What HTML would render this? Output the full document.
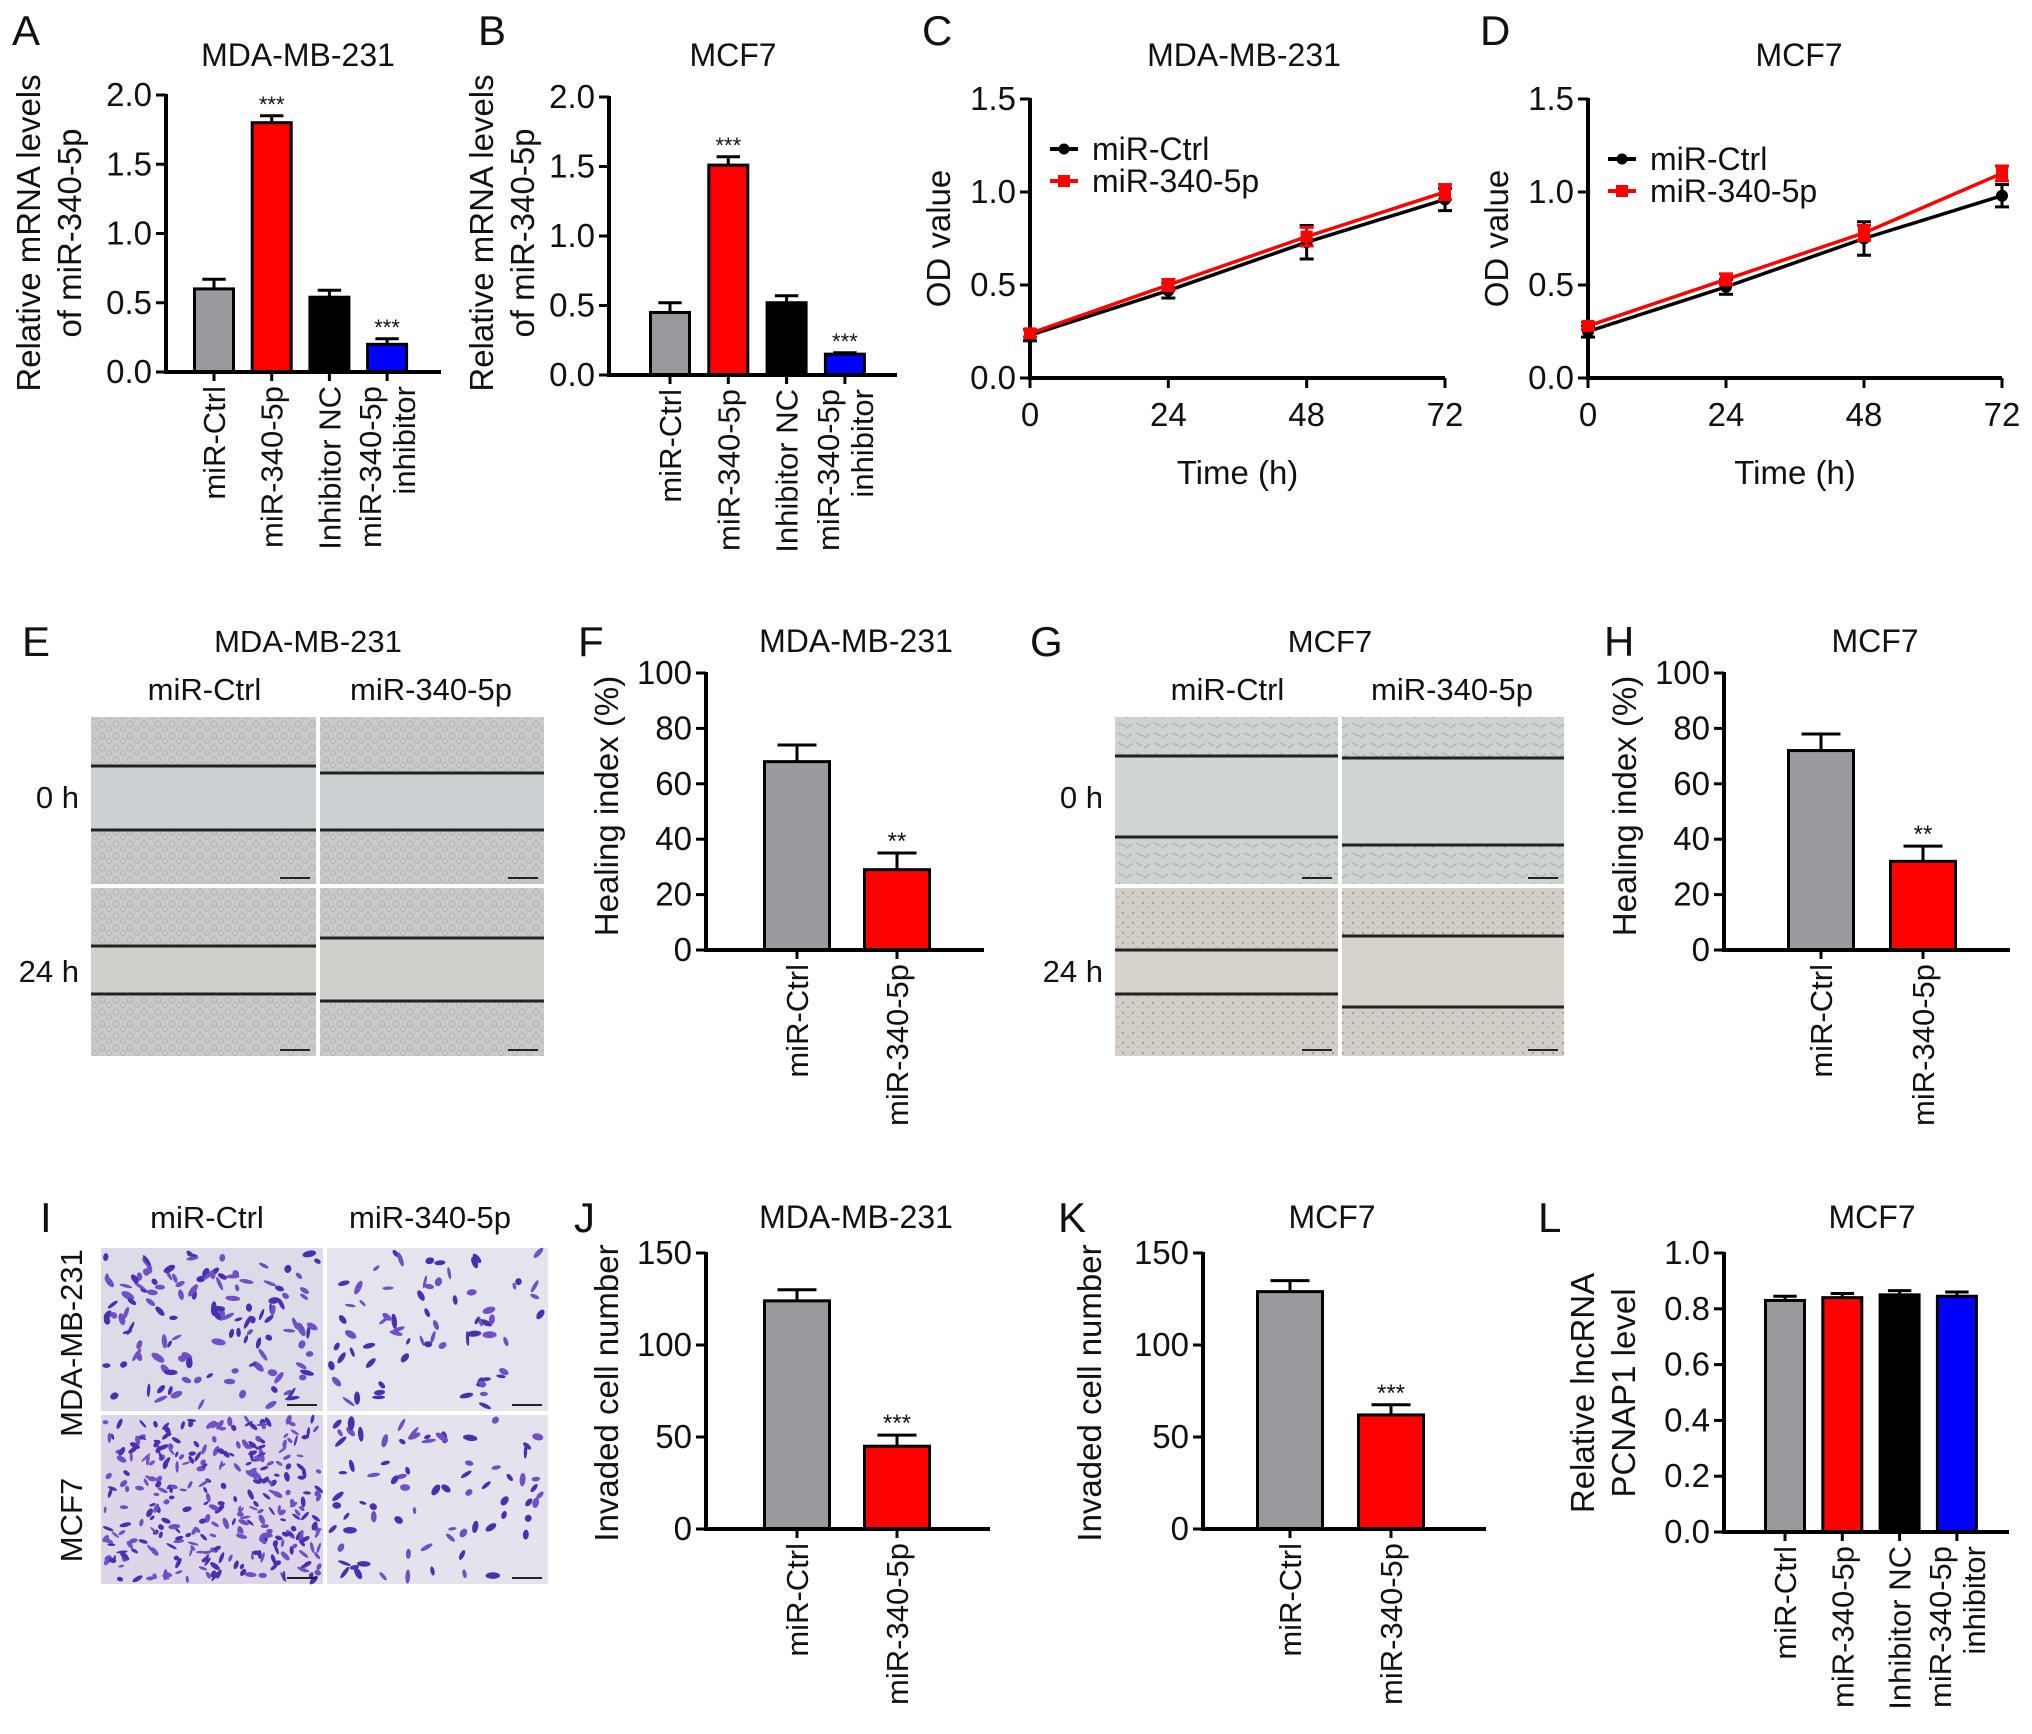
<!DOCTYPE html>
<html><head><meta charset="utf-8"><style>
html,body{margin:0;padding:0;background:#fff}
svg{display:block;font-family:"Liberation Sans",Arial,sans-serif}
</style></head><body>
<svg id="fig" xmlns="http://www.w3.org/2000/svg" width="2032" height="1734" viewBox="0 0 2032 1734">
<defs>
<pattern id="cellsE" width="14" height="12" patternUnits="userSpaceOnUse"><rect width="14" height="12" fill="#c8cbc9"/><circle cx="4" cy="4" r="3" fill="none" stroke="#aeb2b0" stroke-width="1"/><circle cx="11" cy="9" r="2.5" fill="none" stroke="#b4b6b2" stroke-width="1"/></pattern>
<pattern id="cellsG" width="18" height="10" patternUnits="userSpaceOnUse"><rect width="18" height="10" fill="#cdd2d2"/><path d="M2 3 L9 6 M10 8 L16 4" stroke="#a9afb0" stroke-width="1.2"/></pattern>
<pattern id="cellsG2" width="10" height="10" patternUnits="userSpaceOnUse"><rect width="10" height="10" fill="#d3cfc8"/><circle cx="3" cy="3" r="1.2" fill="#aaa399"/><circle cx="8" cy="7" r="1" fill="#b3ada4"/></pattern>
</defs>
</svg>
<script>
// ---------- data ----------
const catsA = ["miR-Ctrl","miR-340-5p","Inhibitor NC","miR-340-5p|inhibitor"];
const valsA = [0.60,1.80,0.54,0.20];
const errsA = [0.07,0.05,0.05,0.04];
const starsA = ["","***","","***"];
const valsB = [0.45,1.51,0.52,0.15];
const errsB = [0.07,0.06,0.05,0.01];
const starsB = ["","***","","***"];
const ticksAB = [0,0.5,1.0,1.5,2.0];
const tickLabAB = ["0.0","0.5","1.0","1.5","2.0"];
const timeX = [0,24,48,72];
const timeLab = ["0","24","48","72"];
const ticksOD = [0,0.5,1.0,1.5];
const tickLabOD = ["0.0","0.5","1.0","1.5"];
const ctrlC = [0.23,0.47,0.73,0.96];
const ctrlCerr = [0.03,0.04,0.09,0.06];
const mirC = [0.24,0.50,0.76,1.00];
const mirCerr = [0.02,0.03,0.05,0.04];
const ctrlD = [0.25,0.49,0.75,0.98];
const ctrlDerr = [0.03,0.04,0.09,0.06];
const mirD = [0.28,0.53,0.78,1.10];
const mirDerr = [0.02,0.03,0.04,0.04];
const cats2 = ["miR-Ctrl","miR-340-5p"];
const valsF = [68,29]; const errsF = [6,6]; const starsF = ["","**"];
const valsH = [72,32]; const errsH = [6,5.5]; const starsH = ["","**"];
const ticksHeal = [0,20,40,60,80,100];
const tickLabHeal = ["0","20","40","60","80","100"];
const valsJ = [124,45]; const errsJ = [6,6]; const starsJ = ["","***"];
const valsK = [129,62]; const errsK = [6,5.5]; const starsK = ["","***"];
const ticksInv = [0,50,100,150];
const tickLabInv = ["0","50","100","150"];
const valsL = [0.83,0.84,0.85,0.845];
const errsL = [0.015,0.015,0.015,0.015];
const ticksL = [0,0.2,0.4,0.6,0.8,1.0];
const tickLabL = ["0.0","0.2","0.4","0.6","0.8","1.0"];
const colors4 = ["#9a9a9e","#ff0000","#000000","#0000ff"];
const colors2 = ["#9a9a9e","#ff0000"];

// ---------- helpers ----------
const svg = document.getElementById('fig');
const NS = "http://www.w3.org/2000/svg";
function el(tag, attrs, parent){
  const e = document.createElementNS(NS, tag);
  for (const k in attrs) e.setAttribute(k, attrs[k]);
  (parent||svg).appendChild(e);
  return e;
}
function txt(s, x, y, size, anchor, parent, extra){
  const t = el('text', Object.assign({x:x, y:y, 'font-size':size, 'text-anchor':anchor||'middle', fill:'#111'}, extra||{}), parent);
  t.textContent = s;
  return t;
}
function group(name){
  const g = el('g', {});
  
  
  return g;
}
function letter(s, x, y){
  const t = txt(s, x, y, 42, 'start');
  
  
}

function barChart(o){
  const g = group(o.name);
  const ys = v => o.y0 - (v - 0) / o.max * (o.y0 - o.yTop);
  const ti = txt(o.title, o.titleX, o.titleY, 32, 'middle', g);
  
  
  o.vals.forEach((v, i) => {
    const cx = o.start + i * o.step;
    const top = ys(v), et = ys(v + o.errs[i]);
    const b = el('rect', {x:cx - o.bw/2, y:top, width:o.bw, height:o.y0 - top, fill:o.colors[i], stroke:'#000', 'stroke-width':3}, g);
    
    
    el('line', {x1:cx, y1:top, x2:cx, y2:et, stroke:'#000', 'stroke-width':3}, g);
    el('line', {x1:cx - o.bw*0.3, y1:et, x2:cx + o.bw*0.3, y2:et, stroke:'#000', 'stroke-width':3}, g);
    if (o.stars[i]) {
      const st = txt(o.stars[i], cx, et - 4, o.starSize||22, 'middle', g);
      
      
    }
    const parts = o.cats[i].split('|');
    parts.forEach((p, j) => {
      const lx = cx + (parts.length === 2 ? (j === 0 ? -17 : 17) : 0);
      const t = txt(p, 0, 0, o.catSize||31, 'end', g, {transform:`translate(${lx + 11},${o.y0 + 14}) rotate(-90)`});
      
      
    });
    el('line', {x1:cx, y1:o.y0, x2:cx, y2:o.y0 + 9, stroke:'#000', 'stroke-width':3}, g);
  });
  const ya = el('line', {x1:o.ax, y1:o.yTop - 1, x2:o.ax, y2:o.y0, stroke:'#000', 'stroke-width':4}, g);
  
  
  const xa = el('line', {x1:o.ax - 2, y1:o.y0, x2:o.xEnd, y2:o.y0, stroke:'#000', 'stroke-width':4}, g);
  
  
  o.ticks.forEach((t, i) => {
    const y = ys(t);
    el('line', {x1:o.ax - 10, y1:y, x2:o.ax, y2:y, stroke:'#000', 'stroke-width':3}, g);
    const tl = txt(o.tickLab[i], o.ax - 14, y + 11, o.tickSize||33, 'end', g);
    
    
  });
  o.ylab.forEach((s, j) => {
    const t = txt(s, 0, 0, 33, 'middle', g, {transform:`translate(${o.ylabX[j]},${o.ylabY}) rotate(-90)`});
    
    
  });
}

function lineChart(o){
  const g = group(o.name);
  const ys = v => o.y0 - v / o.ymax * (o.y0 - o.yTop);
  const xs = v => o.ax + v / o.xmax * (o.x72 - o.ax);
  const ti = txt(o.title, o.titleX, 66, 32, 'middle', g);
  
  
  const ya = el('line', {x1:o.ax, y1:o.yTop - 1, x2:o.ax, y2:o.y0, stroke:'#000', 'stroke-width':4}, g);
  
  
  const xa = el('line', {x1:o.ax - 2, y1:o.y0, x2:o.x72, y2:o.y0, stroke:'#000', 'stroke-width':4}, g);
  
  
  o.yt.forEach((t, i) => {
    const y = ys(t);
    el('line', {x1:o.ax - 10, y1:y, x2:o.ax, y2:y, stroke:'#000', 'stroke-width':3}, g);
    const tl = txt(tickLabOD[i], o.ax - 14, y + 11, 33, 'end', g);
    
    
  });
  timeX.forEach((t, i) => {
    const x = xs(t);
    el('line', {x1:x, y1:o.y0, x2:x, y2:o.y0 + 10, stroke:'#000', 'stroke-width':3}, g);
    const tl = txt(timeLab[i], x, o.y0 + 48, 33, 'middle', g);
    
    
  });
  const xt = txt('Time (h)', (o.ax + o.x72)/2, o.y0 + 106, 33, 'middle', g);
  
  
  const yt = txt('OD value', 0, 0, 33, 'middle', g, {transform:`translate(${o.ax - 80},${(o.yTop + o.y0)/2}) rotate(-90)`});
  
  
  [[o.ctrl, o.ctrlErr, '#000', 'circle', 'series-mir-ctrl'], [o.mir, o.mirErr, '#ff0000', 'square', 'series-mir-340-5p']].forEach(s => {
    const sg = el('g', {}, g);
    
    
    const pts = timeX.map((t, i) => xs(t) + ',' + ys(s[0][i])).join(' ');
    el('polyline', {points:pts, fill:'none', stroke:s[2], 'stroke-width':3.5}, sg);
    timeX.forEach((t, i) => {
      const x = xs(t), y = ys(s[0][i]), e1 = ys(s[0][i] + s[1][i]), e2 = ys(s[0][i] - s[1][i]);
      el('line', {x1:x, y1:e1, x2:x, y2:e2, stroke:s[2], 'stroke-width':3}, sg);
      el('line', {x1:x - 7, y1:e1, x2:x + 7, y2:e1, stroke:s[2], 'stroke-width':3}, sg);
      el('line', {x1:x - 7, y1:e2, x2:x + 7, y2:e2, stroke:s[2], 'stroke-width':3}, sg);
      const m = s[3] === 'circle' ? el('circle', {cx:x, cy:y, r:6, fill:s[2]}, sg) : el('rect', {x:x - 6, y:y - 6, width:12, height:12, fill:s[2]}, sg);
      
      
    });
  });
  const lg = el('g', {}, g);
  
  
  [['miR-Ctrl', '#000', 'circle', o.legY], ['miR-340-5p', '#ff0000', 'square', o.legY + 32]].forEach(l => {
    el('line', {x1:o.legX, y1:l[3], x2:o.legX + 28, y2:l[3], stroke:l[1], 'stroke-width':4}, lg);
    if (l[2] === 'circle') el('circle', {cx:o.legX + 14, cy:l[3], r:5.5, fill:l[1]}, lg);
    else el('rect', {x:o.legX + 8, y:l[3] - 6, width:12, height:12, fill:l[1]}, lg);
    const t = txt(l[0], o.legX + 42, l[3] + 11, 32, 'start', lg);
    
    
  });
}

let seed = 7;
function rnd(){ seed = (seed * 1103515245 + 12345) % 2147483648; return seed / 2147483648; }

function scratch(o){
  const g = group(o.name);
  const ti = txt(o.title, o.titleX, 652, 31, 'middle', g);
  
  
  const c1 = txt('miR-Ctrl', (o.x0 + o.xm)/2, 700, 31, 'middle', g);
  
  
  const c2 = txt('miR-340-5p', (o.xm + o.x1)/2, 700, 31, 'middle', g);
  
  
  const r1 = txt('0 h', o.x0 - 12, 808, 31, 'end', g);
  
  
  const r2 = txt('24 h', o.x0 - 12, 982, 31, 'end', g);
  
  
  const y0 = 717, ym = 886, y1 = 1056;
  const cells = [[o.x0, o.xm - 2, y0, ym - 2, o.lines[0], o.fill0, o.gap0], [o.xm + 2, o.x1, y0, ym - 2, o.lines[1], o.fill0, o.gap0],
                 [o.x0, o.xm - 2, ym + 2, y1, o.lines[2], o.fill1, o.gap1], [o.xm + 2, o.x1, ym + 2, y1, o.lines[3], o.fill1, o.gap1]];
  cells.forEach((c, i) => {
    const im = el('g', {}, g);
    
    
    el('rect', {x:c[0], y:c[2], width:c[1] - c[0], height:c[3] - c[2], fill:c[5]}, im);
    el('rect', {x:c[0], y:c[4][0], width:c[1] - c[0], height:c[4][1] - c[4][0], fill:c[6]}, im);
    el('line', {x1:c[0], y1:c[4][0], x2:c[1], y2:c[4][0], stroke:'#222', 'stroke-width':3}, im);
    el('line', {x1:c[0], y1:c[4][1], x2:c[1], y2:c[4][1], stroke:'#222', 'stroke-width':3}, im);
    el('line', {x1:c[1] - 36, y1:c[3] - 6, x2:c[1] - 6, y2:c[3] - 6, stroke:'#222', 'stroke-width':2}, im);
  });
}

// ---------- panels ----------
letter('A', 12, 45);
barChart({name:'panel-a-chart', title:'MDA-MB-231', titleX:298, titleY:66, ax:166, y0:372, yTop:95, max:2, xEnd:441,
  start:214, step:57.7, bw:39, vals:valsA, errs:errsA, stars:starsA, cats:catsA, colors:colors4,
  ticks:ticksAB, tickLab:tickLabAB, ylab:['Relative mRNA levels','of miR-340-5p'], ylabX:[40,81], ylabY:233});
letter('B', 478, 45);
barChart({name:'panel-b-chart', title:'MCF7', titleX:733, titleY:66, ax:609, y0:375, yTop:97, max:2, xEnd:897,
  start:670, step:58.3, bw:39, vals:valsB, errs:errsB, stars:starsB, cats:catsA, colors:colors4,
  ticks:ticksAB, tickLab:tickLabAB, ylab:['Relative mRNA levels','of miR-340-5p'], ylabX:[493,534], ylabY:233});
letter('C', 922, 45);
lineChart({name:'panel-c-chart', title:'MDA-MB-231', titleX:1244, ax:1030, y0:378, yTop:99, ymax:1.5, x72:1445, xmax:72,
  yt:ticksOD, ctrl:ctrlC, ctrlErr:ctrlCerr, mir:mirC, mirErr:mirCerr, legX:1050, legY:149});
letter('D', 1480, 45);
lineChart({name:'panel-d-chart', title:'MCF7', titleX:1799, ax:1588, y0:378, yTop:99, ymax:1.5, x72:2002, xmax:72,
  yt:ticksOD, ctrl:ctrlD, ctrlErr:ctrlDerr, mir:mirD, mirErr:mirDerr, legX:1608, legY:159});

letter('E', 22, 656);
scratch({name:'panel-e-scratch', title:'MDA-MB-231', titleX:308, x0:91, xm:318, x1:544,
  lines:[[766,830],[773,830],[946,994],[938,1001]], fill0:'url(#cellsE)', fill1:'url(#cellsE)', gap0:'#cbd0d3', gap1:'#cfcfcc'});
letter('F', 578, 656);
barChart({name:'panel-f-chart', title:'MDA-MB-231', titleX:856, titleY:652, ax:706, y0:950, yTop:673, max:100, xEnd:984,
  start:797, step:100, bw:65, vals:valsF, errs:errsF, stars:starsF, cats:cats2, colors:colors2, starSize:24,
  ticks:ticksHeal, tickLab:tickLabHeal, ylab:['Healing index (%)'], ylabX:[618], ylabY:806});
letter('G', 1030, 656);
scratch({name:'panel-g-scratch', title:'MCF7', titleX:1330, x0:1115, xm:1340, x1:1564,
  lines:[[756,837],[758,845],[950,994],[936,1007]], fill0:'url(#cellsG)', fill1:'url(#cellsG2)', gap0:'#cfd4d4', gap1:'#d6d1cb'});
letter('H', 1604, 656);
barChart({name:'panel-h-chart', title:'MCF7', titleX:1875, titleY:652, ax:1724, y0:950, yTop:673, max:100, xEnd:2010,
  start:1821, step:102, bw:65, vals:valsH, errs:errsH, stars:starsH, cats:cats2, colors:colors2, starSize:24,
  ticks:ticksHeal, tickLab:tickLabHeal, ylab:['Healing index (%)'], ylabX:[1636], ylabY:806});

letter('I', 40, 1232);
(function(){
  const g = group('panel-i-invasion');
  const x0 = 101, xm = 325, x1 = 548, y0 = 1248, ym = 1413, y1 = 1584;
  const l1 = txt('miR-Ctrl', 207, 1228, 31, 'middle', g);
  
  
  const l2 = txt('miR-340-5p', 430, 1228, 31, 'middle', g);
  
  
  const r1 = txt('MDA-MB-231', 0, 0, 31, 'middle', g, {transform:'translate(82,1343) rotate(-90)'});
  
  
  const r2 = txt('MCF7', 0, 0, 31, 'middle', g, {transform:'translate(82,1520) rotate(-90)'});
  
  
  const quads = [[x0, xm - 2, y0, ym - 2, 130, '#dcdbe8', 1], [xm + 2, x1, y0, ym - 2, 70, '#e4e4ec', 1], [x0, xm - 2, ym + 2, y1, 320, '#ddd6e8', 0.8], [xm + 2, x1, ym + 2, y1, 75, '#e4e3ec', 1]];
  quads.forEach(q => {
    const im = el('g', {}, g);
    
    
    el('rect', {x:q[0], y:q[2], width:q[1] - q[0], height:q[3] - q[2], fill:q[5]}, im);
    for (let k = 0; k < q[4]; k++) {
      const cx = q[0] + 4 + rnd() * (q[1] - q[0] - 8), cy = q[2] + 4 + rnd() * (q[3] - q[2] - 8);
      el('ellipse', {cx:cx, cy:cy, rx:(1.5 + rnd()*2)*q[6], ry:(3.5 + rnd()*4)*q[6], fill: rnd() < 0.5 ? '#4a2fb0' : '#7050c4', transform:`rotate(${Math.floor(rnd()*180)} ${cx} ${cy})`}, im);
    }
    el('line', {x1:q[1] - 36, y1:q[3] - 6, x2:q[1] - 6, y2:q[3] - 6, stroke:'#222', 'stroke-width':2}, im);
  });
})();
letter('J', 574, 1232);
barChart({name:'panel-j-chart', title:'MDA-MB-231', titleX:856, titleY:1228, ax:706, y0:1529, yTop:1253, max:150, xEnd:990,
  start:797, step:100, bw:65, vals:valsJ, errs:errsJ, stars:starsJ, cats:cats2, colors:colors2, starSize:24,
  ticks:ticksInv, tickLab:tickLabInv, ylab:['Invaded cell number'], ylabX:[618], ylabY:1393});
letter('K', 1058, 1232);
barChart({name:'panel-k-chart', title:'MCF7', titleX:1332, titleY:1228, ax:1203, y0:1529, yTop:1253, max:150, xEnd:1486,
  start:1290, step:101, bw:65, vals:valsK, errs:errsK, stars:starsK, cats:cats2, colors:colors2, starSize:24,
  ticks:ticksInv, tickLab:tickLabInv, ylab:['Invaded cell number'], ylabX:[1101], ylabY:1393});
letter('L', 1538, 1232);
barChart({name:'panel-l-chart', title:'MCF7', titleX:1872, titleY:1228, ax:1724, y0:1532, yTop:1253, max:1.0, xEnd:2009,
  start:1785, step:57.3, bw:39, vals:valsL, errs:errsL, stars:["","","",""], cats:catsA, colors:colors4,
  ticks:ticksL, tickLab:tickLabL, ylab:['Relative lncRNA','PCNAP1 level'], ylabX:[1594,1635], ylabY:1393});
</script>
</body></html>
